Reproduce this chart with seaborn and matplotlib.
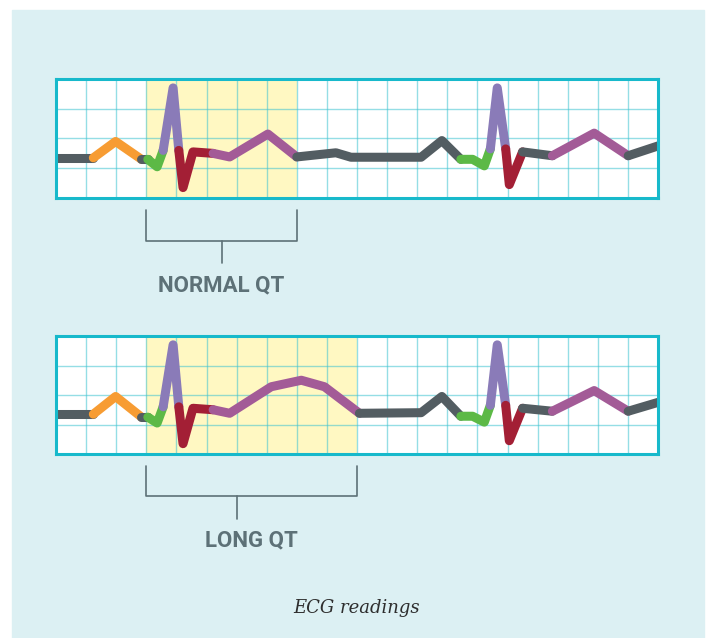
import pandas as pd
import matplotlib.pyplot as plt
import seaborn as sns
from matplotlib.patches import Rectangle

# ECG traces in grid units (x: 0-20 small boxes, y: 0-4 boxes)
normal_x = [0, 1.24, 1.98, 2.84, 3.05, 3.36, 3.56, 3.89, 4.08, 4.22, 4.55, 5.22,
            5.77, 7.04, 8.0, 9.3, 9.8, 12.13, 12.82, 13.45, 13.84, 14.23, 14.43,
            14.66, 14.94, 15.06, 15.5, 16.49, 17.88, 19.01, 20]
normal_y = [1.35, 1.35, 1.9, 1.3, 1.3, 1.05, 1.6, 3.7, 1.6, 0.35, 1.55, 1.5,
            1.38, 2.15, 1.38, 1.52, 1.37, 1.37, 1.93, 1.3, 1.3, 1.08, 1.65,
            3.7, 1.65, 0.45, 1.55, 1.42, 2.18, 1.42, 1.75]
normal_breaks = [0, 1, 3, 4, 6, 8, 11, 14, 19, 22, 24, 26, 27, 29, 30]
normal_waves = ["base", "P", "base", "Q", "R", "S", "T", "base", "Q", "R", "S",
                "base", "T", "base"]

long_x = [0, 1.24, 1.98, 2.84, 3.05, 3.36, 3.56, 3.89, 4.08, 4.22, 4.55, 5.22,
          5.77, 7.15, 8.15, 8.92, 10.08, 12.13, 12.82, 13.45, 13.84, 14.23, 14.43,
          14.66, 14.94, 15.06, 15.5, 16.49, 17.88, 19.01, 20]
long_y = [1.35, 1.35, 1.95, 1.25, 1.25, 1.05, 1.6, 3.7, 1.6, 0.35, 1.55, 1.5,
          1.38, 2.28, 2.5, 2.28, 1.38, 1.4, 1.95, 1.28, 1.28, 1.08, 1.65,
          3.7, 1.65, 0.45, 1.55, 1.45, 2.15, 1.45, 1.75]
long_breaks = [0, 1, 3, 4, 6, 8, 11, 16, 19, 22, 24, 26, 27, 29, 30]
long_waves = normal_waves

# highlighted QT interval and bracket (grid units)
normal_qt = (3, 8)
long_qt = (3, 10)
normal_tick = 5.5
long_tick = 6.0
labels = ["NORMAL QT", "LONG QT"]

wave_colors = {"base": "#535d62", "P": "#f79c33", "Q": "#5cb946",
               "R": "#8a7bb8", "S": "#a31f35", "T": "#a35b97"}

BG = "#dcf0f3"
GRID = "#3ec3d1"
BORDER = "#17b9cb"
YELLOW = "#fff8c2"
INK = "#5d7177"


def build_segments(xs, ys, breaks, waves):
    rows = []
    for i, w in enumerate(waves):
        for j in range(breaks[i], breaks[i + 1] + 1):
            rows.append({"x": xs[j], "y": ys[j], "seg": f"{i:02d}_{w}"})
    return pd.DataFrame(rows)


def draw_strip(ax, df, qt, tick, label):
    ax.set_facecolor("white")
    ax.axvspan(qt[0], qt[1], color=YELLOW, zorder=0, lw=0)
    ax.set_xlim(0, 20)
    ax.set_ylim(0, 4)
    ax.set_xticks(range(0, 21))
    ax.set_yticks(range(0, 5))
    ax.grid(True, color=GRID, alpha=0.55, lw=1.0)
    ax.set_axisbelow(True)
    ax.tick_params(length=0, labelbottom=False, labelleft=False)
    for s in ax.spines.values():
        s.set_color(BORDER)
        s.set_linewidth(2.2)
        s.set_zorder(5)

    palette = {s: wave_colors[s.split("_")[1]] for s in df["seg"].unique()}
    sns.lineplot(data=df, x="x", y="y", hue="seg", palette=palette, ax=ax,
                 sort=False, estimator=None, legend=False, linewidth=6.5,
                 solid_joinstyle="round", solid_capstyle="round", zorder=3)
    ax.set_xlabel("")
    ax.set_ylabel("")

    # bracket under the strip
    kw = dict(color=INK, lw=1.2, clip_on=False)
    ax.plot([qt[0], qt[0], qt[1], qt[1]], [-0.42, -1.43, -1.43, -0.42], **kw)
    ax.plot([tick, tick], [-1.43, -2.2], **kw)
    ax.text((qt[0] + qt[1]) / 2, -2.93, label, ha="center", va="center",
            fontsize=16, fontweight="bold", color=INK, family="Roboto")


def main():
    sns.set_style("white")
    W, H = 710, 638
    fig = plt.figure(figsize=(W / 100, H / 100), dpi=100)
    fig.patch.set_facecolor("white")
    fig.patches.append(Rectangle((12 / W, 0), (704 - 12) / W, (638 - 10) / H,
                                 transform=fig.transFigure, color=BG, zorder=-10))

    ax1 = fig.add_axes([56 / W, (H - 198) / H, 602 / W, 119 / H])
    ax2 = fig.add_axes([56 / W, (H - 454) / H, 602 / W, 118 / H])

    draw_strip(ax1, build_segments(normal_x, normal_y, normal_breaks, normal_waves),
               normal_qt, normal_tick, labels[0])
    draw_strip(ax2, build_segments(long_x, long_y, long_breaks, long_waves),
               long_qt, long_tick, labels[1])

    fig.text(357 / W, 1 - 608 / H, "ECG readings", ha="center", va="center",
             fontsize=13, style="italic", family="DejaVu Serif", color="#2e2e2e")

    fig.savefig("out.png", dpi=100, facecolor=fig.get_facecolor())
    plt.close(fig)


if __name__ == "__main__":
    main()
